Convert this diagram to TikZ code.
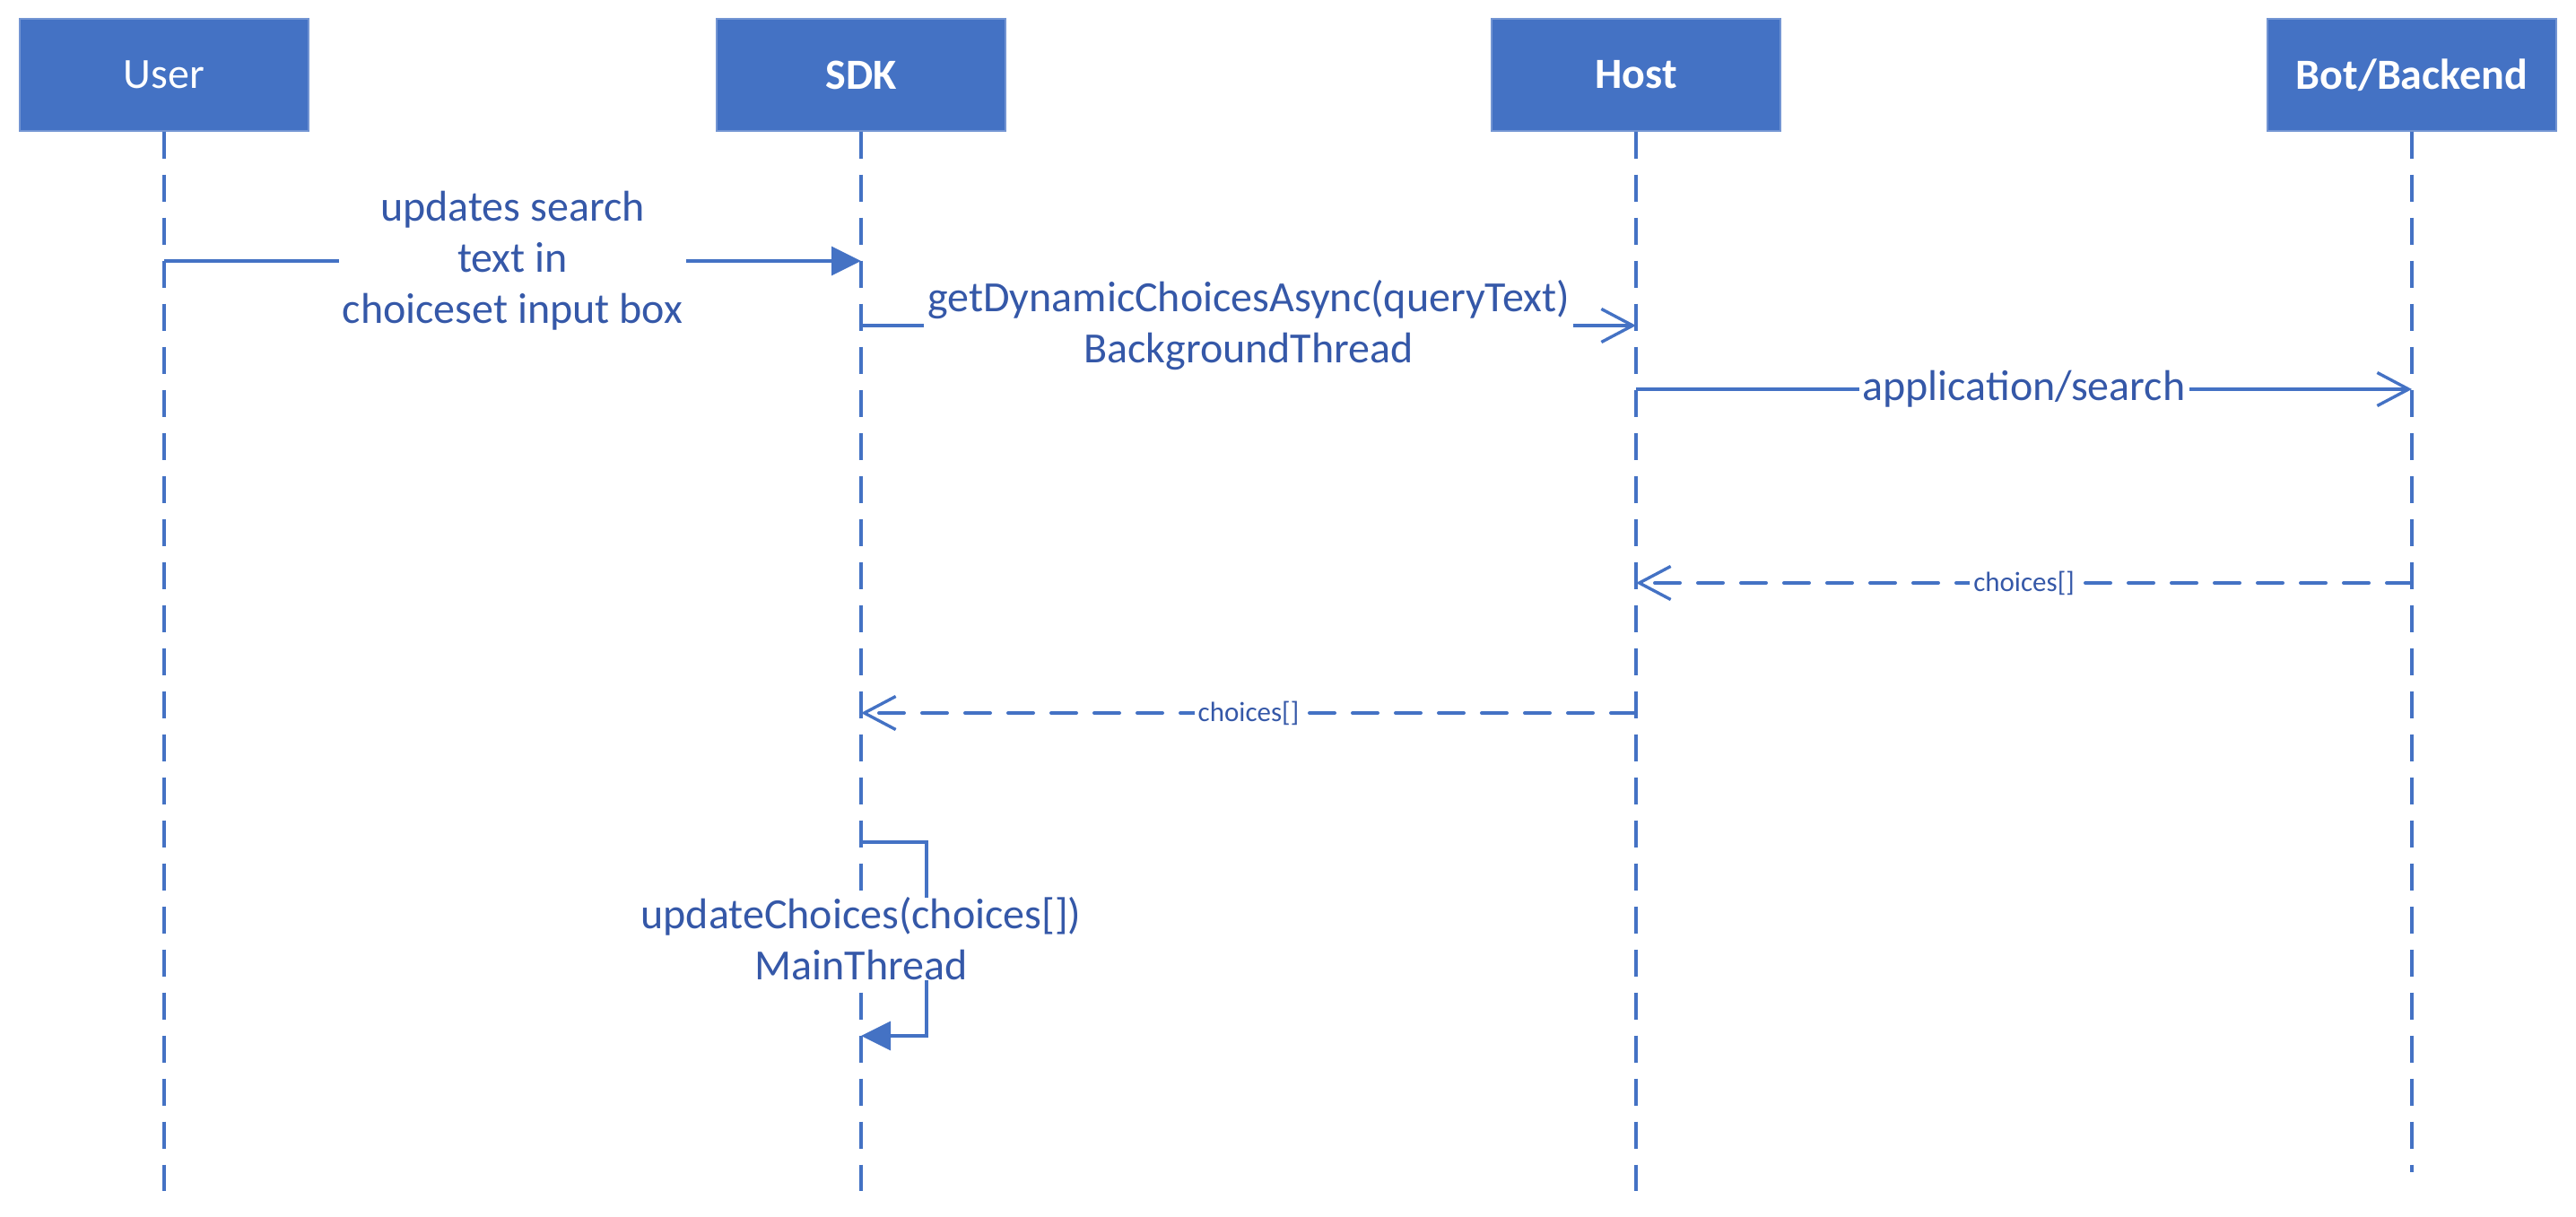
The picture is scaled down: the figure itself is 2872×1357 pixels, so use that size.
\documentclass[tikz,border=0pt]{standalone}
\usepackage{fontspec}
\setmainfont{Carlito}
\usetikzlibrary{arrows.meta}
\definecolor{boxblue}{HTML}{4472C4}
\definecolor{txtblue}{HTML}{3558A8}
\begin{document}
\begin{tikzpicture}[x=0.25pt,y=-0.25pt,
  actor/.style={fill=boxblue, draw=boxblue!75!white, line width=0.3pt, minimum width=80.5pt, minimum height=31.25pt, inner sep=0pt, text=white, font=\fontsize{12}{14.25}\selectfont},
  actorb/.style={actor, font=\fontsize{12}{14.25}\selectfont\bfseries},
  lifeline/.style={draw=boxblue, line width=0.85pt, dash pattern=on 7.5pt off 4.5pt},
  msg/.style={draw=boxblue, line width=0.85pt},
  retmsg/.style={msg, line width=1pt, line cap=round, dash pattern=on 7pt off 5pt},
  lbl/.style={fill=white, inner xsep=1pt, inner ysep=0pt, align=center, text=txtblue, font=\fontsize{12}{14.25}\selectfont},
  slbl/.style={lbl, font=\fontsize{7.75}{9}\selectfont},
  fhead/.style={-{Triangle[length=8.25pt,width=8pt]}},
  ohead/.style={-{Straight Barb[length=8.75pt,width=9.25pt,line width=0.85pt]}}
]
\useasboundingbox (0,0) rectangle (2872,1357);
% participants
\node[actor]  (user) at (183,83.5)  {User};
\node[actorb] (sdk)  at (960,83.5)  {SDK};
\node[actorb] (host) at (1824,83.5) {Host};
\node[actorb] (bot)  at (2689,83.5) {Bot/Backend};
% lifelines
\coordinate (userend) at (183,1328);
\coordinate (sdkend)  at (960,1328);
\coordinate (hostend) at (1824,1328);
\coordinate (botend)  at (2689,1307);
\draw[lifeline] (user.south) -- (userend);
\draw[lifeline] (sdk.south) -- (sdkend);
\draw[lifeline] (host.south) -- (hostend);
\draw[lifeline] (bot.south) -- (botend);
% message points
\coordinate (m1a) at (183,291);  \coordinate (m1b) at (960,291);
\coordinate (m2a) at (960,363);  \coordinate (m2b) at (1824,363);
\coordinate (m3a) at (1824,434); \coordinate (m3b) at (2689,434);
\coordinate (m4a) at (2689,650); \coordinate (m4b) at (1824,650);
\coordinate (m5a) at (1824,795); \coordinate (m5b) at (960,795);
\coordinate (s1) at (960,939);   \coordinate (s2) at (1033,939);
\coordinate (s3) at (1033,1155); \coordinate (s4) at (960,1155);
% messages
\draw[msg,fhead] (m1a) -- (m1b) node[lbl,midway] (l1) {updates search\\text in\\choiceset input box};
\draw[msg,ohead] (m2a) -- (m2b) node[lbl,midway] (l2) {getDynamicChoicesAsync(queryText)\\BackgroundThread};
\draw[msg,ohead] (m3a) -- (m3b) node[lbl,midway] (l3) {application/search};
\draw[retmsg,ohead] (m4a) -- (m4b) node[slbl,midway] (l4) {choices[]};
\draw[retmsg,ohead] (m5a) -- (m5b) node[slbl,midway] (l5) {choices[]};
\draw[msg,fhead] (s1) -- (s2) -- (s3) -- (s4);
\node[lbl] (l6) at (960,1047) {updateChoices(choices[])\\MainThread};
\end{tikzpicture}
\end{document}
